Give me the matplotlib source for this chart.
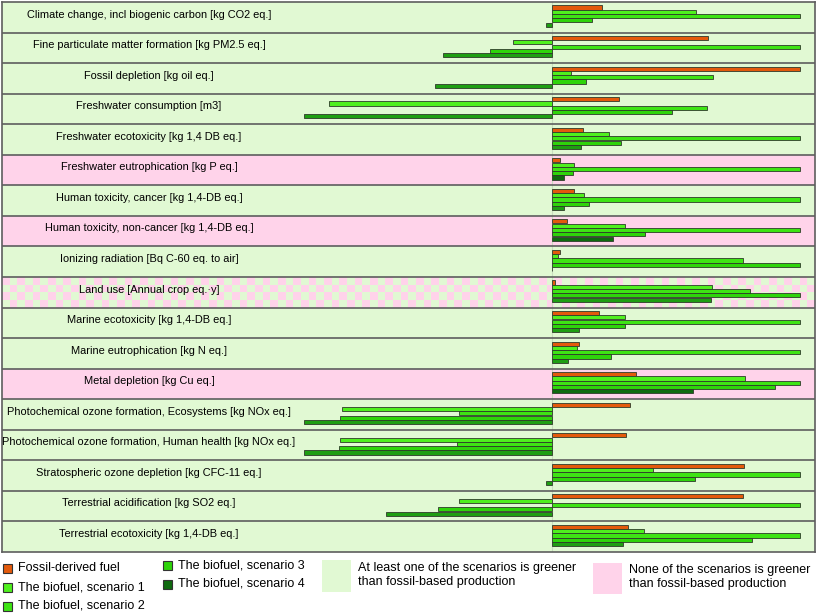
import matplotlib
matplotlib.use("Agg")
import matplotlib.pyplot as plt
import numpy as np
from matplotlib.patches import Rectangle
from matplotlib.colors import ListedColormap

plt.rcParams['font.family'] = ['Liberation Sans', 'DejaVu Sans']

categories = [
    "Climate change, incl biogenic carbon [kg CO2 eq.]",
    "Fine particulate matter formation [kg PM2.5 eq.]",
    "Fossil depletion [kg oil eq.]",
    "Freshwater consumption [m3]",
    "Freshwater ecotoxicity [kg 1,4 DB eq.]",
    "Freshwater eutrophication [kg P eq.]",
    "Human toxicity, cancer [kg 1,4-DB eq.]",
    "Human toxicity, non-cancer [kg 1,4-DB eq.]",
    "Ionizing radiation [Bq C-60 eq. to air]",
    "Land use [Annual crop eq.\u00b7y]",
    "Marine ecotoxicity [kg 1,4-DB eq.]",
    "Marine eutrophication [kg N eq.]",
    "Metal depletion [kg Cu eq.]",
    "Photochemical ozone formation, Ecosystems [kg NOx eq.]",
    "Photochemical ozone formation, Human health [kg NOx eq.]",
    "Stratospheric ozone depletion [kg CFC-11 eq.]",
    "Terrestrial acidification [kg SO2 eq.]",
    "Terrestrial ecotoxicity [kg 1,4-DB eq.]",
]
# g = at least one scenario greener, p = none greener, c = mixed (checkered)
row_type = ['g', 'g', 'g', 'g', 'g', 'p', 'g', 'p', 'g', 'c',
            'g', 'g', 'p', 'g', 'g', 'g', 'g', 'g']

fossil = [0.20, 0.63, 1.00, 0.27, 0.124, 0.032, 0.087, 0.059, 0.032, 0.013,
          0.19, 0.11, 0.34, 0.315, 0.298, 0.775, 0.769, 0.305]
scen1 = [0.58, -0.156, 0.075, -0.90, 0.228, 0.09, 0.13, 0.294, 0.023, 0.646,
         0.296, 0.10, 0.78, -0.847, -0.855, 0.406, -0.374, 0.372]
scen2 = [1.00, 1.00, 0.65, 0.624, 1.00, 1.00, 1.00, 1.00, 0.769, 0.80,
         1.00, 1.00, 1.00, -0.375, -0.384, 1.00, 1.00, 1.00]
scen3 = [0.16, -0.25, 0.137, 0.483, 0.277, 0.083, 0.148, 0.374, 1.00, 1.00,
         0.296, 0.237, 0.898, -0.855, -0.86, 0.577, -0.461, 0.805]
scen4 = [-0.024, -0.44, -0.473, -1.00, 0.118, 0.05, 0.048, 0.245, 0.0, 0.642,
         0.107, 0.063, 0.567, -1.00, -1.00, -0.024, -0.668, 0.288]

series_names = ["Fossil-derived fuel", "The biofuel, scenario 1", "The biofuel, scenario 2",
                "The biofuel, scenario 3", "The biofuel, scenario 4"]
series_colors = ["#E35A0C", "#4FF01E", "#3EE414", "#2ED40A", "#1E9E12"]
dark_s4 = "#0F6A0F"

bg_green = "#E1F9D3"
bg_pink = "#FFD3EA"

W, H = 817, 614
fig = plt.figure(figsize=(W / 100, H / 100), dpi=100)
fig.patch.set_facecolor("white")

ax_l, ax_r, ax_t, ax_b = 2, 815, 2, 552
ax = fig.add_axes([ax_l / W, (H - ax_b) / H, (ax_r - ax_l) / W, (ax_b - ax_t) / H])
zero_px, unit_px = 552, 248.0
xmin = (ax_l - zero_px) / unit_px
xmax = (ax_r - zero_px) / unit_px
n = len(categories)
ax.set_xticks([])
ax.set_yticks([])
for s in ax.spines.values():
    s.set_color("#5E5E5E")
    s.set_linewidth(1.2)

# row backgrounds
for i, t in enumerate(row_type):
    if t == 'g':
        ax.add_patch(Rectangle((xmin, i), xmax - xmin, 1, facecolor=bg_green, edgecolor='none', zorder=0))
    elif t == 'p':
        ax.add_patch(Rectangle((xmin, i), xmax - xmin, 1, facecolor=bg_pink, edgecolor='none', zorder=0))
    else:
        ncol, nrow = 106, 4
        chk = (np.add.outer(np.arange(nrow), np.arange(ncol)) % 2)
        cmap = ListedColormap([bg_pink, bg_green])
        ax.imshow(chk, cmap=cmap, extent=(xmin, xmax, i + 1, i), aspect='auto',
                  interpolation='nearest', zorder=0)
ax.set_xlim(xmin, xmax)
ax.set_ylim(n, 0)

ax.axvline(0, color="#C9DDC0", lw=0.8, zorder=1)
for i in range(1, n):
    ax.axhline(i, color="#5E5E5E", lw=1.2, zorder=3)

# bars
series = [fossil, scen1, scen2, scen3, scen4]
bar_h = 0.135
offs0, step = 0.18, 0.141
y = np.arange(n)
for k, vals in enumerate(series):
    cols = [series_colors[k]] * n
    if k == 4:
        cols = [dark_s4 if t == 'p' else series_colors[k] for t in row_type]
    ax.barh(y + offs0 + k * step, vals, height=bar_h, left=0, color=cols,
            edgecolor="#2E3A2A", linewidth=0.6, zorder=2)

# labels
label_x = (149 - zero_px) / unit_px
for i, c in enumerate(categories):
    ax.text(label_x, i + 0.41, c, ha='center', va='center', fontsize=7.95, zorder=4)

# legend
def fx(px):
    return px / W

def fy(py):
    return 1 - py / H

leg_pos = [(7, 568), (7, 587), (7, 606), (167, 565), (167, 584)]
for (px, py), name, col in zip(leg_pos, series_names, series_colors):
    c = dark_s4 if name == series_names[4] else col
    fig.patches.append(Rectangle((fx(px - 4.5), fy(py + 4.5)), 9 / W, 9 / H, transform=fig.transFigure,
                                 facecolor=c, edgecolor="#333333", linewidth=0.8))
    fig.text(fx(px + 11), fy(py), name, fontsize=9.0, va='center', ha='left')

fig.patches.append(Rectangle((fx(322), fy(592)), 29 / W, 32 / H, transform=fig.transFigure,
                             facecolor=bg_green, edgecolor='none'))
fig.text(fx(358), fy(568), "At least one of the scenarios is greener", fontsize=9.0, va='center')
fig.text(fx(358), fy(582), "than fossil-based production", fontsize=9.0, va='center')
fig.patches.append(Rectangle((fx(593), fy(594)), 29 / W, 31 / H, transform=fig.transFigure,
                             facecolor=bg_pink, edgecolor='none'))
fig.text(fx(629), fy(570), "None of the scenarios is greener", fontsize=9.0, va='center')
fig.text(fx(629), fy(584), "than fossil-based production", fontsize=9.0, va='center')

fig.savefig("out.png", dpi=100)
